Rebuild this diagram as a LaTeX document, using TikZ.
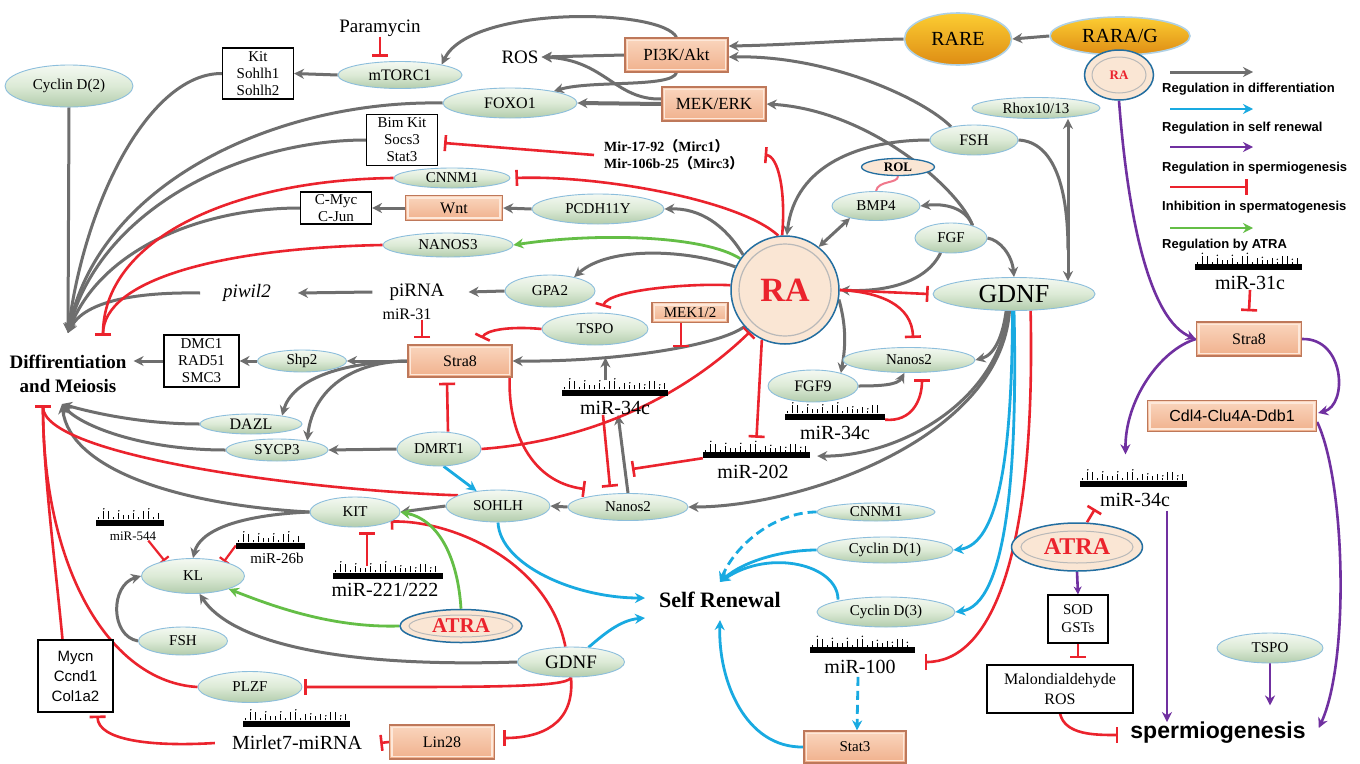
\documentclass[tikz,border=0pt]{standalone}
\usepackage{fontspec}
\setmainfont{Liberation Serif}
\setsansfont{Liberation Sans}
\newfontfamily\cjk{Noto Sans CJK SC}
\usetikzlibrary{arrows.meta,shapes.geometric,calc,backgrounds}
\definecolor{cgray}{RGB}{110,110,110}
\definecolor{cred}{RGB}{235,35,45}
\definecolor{cblue}{RGB}{25,170,225}
\definecolor{cgreen}{RGB}{100,190,70}
\definecolor{cpurp}{RGB}{112,48,160}
\definecolor{cpink}{RGB}{240,120,140}
\definecolor{ellT}{RGB}{244,249,242}
\definecolor{ellM}{RGB}{220,234,214}
\definecolor{ellB}{RGB}{178,204,172}
\definecolor{ellE}{RGB}{140,190,220}
\definecolor{boxT}{RGB}{250,214,190}
\definecolor{boxB}{RGB}{240,176,140}
\definecolor{boxE}{RGB}{190,120,90}
\definecolor{boxH}{RGB}{253,232,218}
\definecolor{raF}{RGB}{250,230,212}
\definecolor{raE}{RGB}{35,110,160}
\definecolor{goldT}{RGB}{252,205,50}
\definecolor{goldB}{RGB}{222,140,20}
\newcommand\fsz[2]{\fontsize{#1}{#2}\selectfont}
\newcommand\mirbar[4]{%
  \node[fill=black, inner sep=0pt, minimum width=#4pt, minimum height=6pt] (#1) at (#2,#3) {};
  \pgfmathtruncatemacro\mirn{(#4-6)/5}
  \foreach \k in {0,...,\mirn}{
    \pgfmathtruncatemacro\mirh{2+mod(\k*5+\k*\k,8)}
    \draw[line width=0.8pt] ($(#1.north west)+(3+\k*5,0)$) -- ++(0,-\mirh);
    \pgfmathtruncatemacro\mird{mod(\k,3)}
    \ifnum\mird=1 \fill ($(#1.north west)+(3+\k*5,-\mirh-2.5)$) circle (0.8pt);\fi
  }
}
\begin{document}
\begin{tikzpicture}[x=1pt,y=-1pt,
  ell/.style={ellipse, draw=ellE, line width=0.9pt, top color=ellT, bottom color=ellB, middle color=ellM, inner sep=0pt, font=\fsz{15}{18}},
  sbox/.style={rectangle, draw=boxE, line width=1.3pt, top color=boxT, bottom color=boxB, inner sep=0pt, font=\fsz{16}{19},
    path picture={\draw[boxH, line width=1.4pt] ([xshift=2.5pt,yshift=-2.5pt]path picture bounding box.north west) rectangle ([xshift=-2.5pt,yshift=2.5pt]path picture bounding box.south east);}},
  wbox/.style={rectangle, draw=black, line width=1.1pt, fill=white, inner sep=0pt, align=center, font=\fsz{15}{17}},
  lbl/.style={inner sep=0pt, font=\fsz{19}{22}},
  leg/.style={anchor=west, inner sep=0pt, font=\sffamily\bfseries\fsz{13}{15}},
  gold/.style={ellipse, draw=ellE!70!white, line width=1.6pt, top color=goldT, bottom color=goldB, inner sep=0pt, font=\fsz{20}{22}},
  garr/.style={draw=cgray, line width=3pt, -{Stealth[length=10pt,width=10pt]}},
  rinh/.style={draw=cred, line width=2.6pt, -{Bar[width=16pt,line width=2.6pt]}},
  rsmall/.style={draw=cred, line width=2.2pt, -{Bar[width=12pt,line width=2.2pt]}},
  barr/.style={draw=cblue, line width=2.8pt, -{Stealth[length=10pt,width=10pt]}},
  grarr/.style={draw=cgreen, line width=2.8pt, -{Stealth[length=10pt,width=10pt]}},
  parr/.style={draw=cpurp, line width=2.6pt, -{Stealth[length=10pt,width=10pt]}}
]
\useasboundingbox (0,0) rectangle (1360,763);

% ---------------- nodes ----------------
\node[lbl] (param) at (380,28) {Paramycin};
\node[ell, minimum width=124pt, minimum height=27pt, font=\fsz{16}{18}] (mtor) at (400,75) {mTORC1};
\node[wbox, minimum width=71pt, minimum height=51pt] (kitb) at (258,73.5) {Kit\\Sohlh1\\Sohlh2};
\node[ell, minimum width=128pt, minimum height=42pt] (cyc2) at (69,86) {Cyclin D(2)};
\node[sbox, minimum width=103pt, minimum height=34pt, font=\fsz{17}{19}] (pi3k) at (676.5,55) {PI3K/Akt};
\node[lbl, inner sep=3pt] (ros) at (520,57) {ROS};
\node[sbox, minimum width=104pt, minimum height=34pt, font=\fsz{17}{19}] (mek) at (714,104) {MEK/ERK};
\node[ell, minimum width=134pt, minimum height=30pt, font=\fsz{16}{18}] (foxo) at (510,103) {FOXO1};
\node[gold, minimum width=107pt, minimum height=52pt] (rare) at (958,39) {RARE};
\node[gold, minimum width=140pt, minimum height=38pt] (rarag) at (1120,36) {RARA/G};
\node[ellipse, draw=raE, line width=1.5pt, fill=raF, minimum width=69pt, minimum height=50pt, inner sep=0pt, text=cred, font=\bfseries\fsz{13}{15},
  path picture={\draw[gray!55, line width=1pt] (path picture bounding box.center) ellipse (27pt and 18pt);}] (ras) at (1119,75) {RA};
\node[wbox, minimum width=71pt, minimum height=51pt] (bim) at (402,140) {Bim Kit\\Socs3\\Stat3};
\node[inner sep=0pt, anchor=west, align=left, font=\bfseries\fsz{14}{17}] (mirtxt) at (604,155) {Mir-17-92{\cjk （}Mirc1{\cjk ）}\\Mir-106b-25{\cjk （}Mirc3{\cjk ）}};
\node[ell, minimum width=116pt, minimum height=20pt] (cnnm) at (452,178) {CNNM1};
\node[sbox, minimum width=97pt, minimum height=25pt] (wnt) at (454,208) {Wnt};
\node[wbox, minimum width=71pt, minimum height=32pt] (cmyc) at (336,208) {C-Myc\\C-Jun};
\node[ell, minimum width=132pt, minimum height=30pt] (pcdh) at (598,209) {PCDH11Y};
\node[ell, minimum width=130pt, minimum height=24pt] (nanos3) at (448,245) {NANOS3};
\node[lbl, font=\itshape\fsz{19}{22}] (piwil) at (247,293) {piwil2};
\node[lbl] (pirna) at (417,292) {piRNA};
\node[lbl, font=\fsz{16}{18}] (mir31) at (407,314) {miR-31};
\node[ell, minimum width=90pt, minimum height=32pt] (gpa) at (550,291) {GPA2};
\node[circle, draw=raE, line width=1.5pt, fill=raF, minimum size=108pt, inner sep=0pt, text=cred, font=\bfseries\fsz{34}{36},
  path picture={\draw[gray!55, line width=1.2pt] (path picture bounding box.center) circle (46pt);}] (RA) at (785,290) {RA};
\node[ell, minimum width=106pt, minimum height=32pt] (tspo) at (595,329) {TSPO};
\node[sbox, minimum width=76pt, minimum height=20pt, font=\fsz{15}{17}] (mek12) at (690,312.5) {MEK1/2};
\node[sbox, minimum width=104pt, minimum height=32pt] (stra) at (460,361) {Stra8};
\node[ell, minimum width=89pt, minimum height=22pt] (shp) at (302,361) {Shp2};
\node[wbox, minimum width=75pt, minimum height=52pt] (dmc) at (201.5,361) {DMC1\\RAD51\\SMC3};
\node[font=\bfseries\fsz{19}{24}, align=center, inner sep=0pt] (diff) at (68,374) {Diffirentiation\\and Meiosis};
\node[ell, minimum width=102pt, minimum height=20pt, font=\fsz{16}{18}] (dazl) at (251,424) {DAZL};
\node[ell, minimum width=102pt, minimum height=22pt] (sycp) at (277,450) {SYCP3};
\node[ell, minimum width=84pt, minimum height=34pt] (dmrt) at (439,449) {DMRT1};
\node[ell, minimum width=104pt, minimum height=32pt] (sohlh) at (498,506) {SOHLH};
\node[ell, minimum width=120pt, minimum height=27pt] (nanl) at (628,507) {Nanos2};
\node[ell, minimum width=90pt, minimum height=30pt] (kit) at (355,512) {KIT};
\node[ell, minimum width=103pt, minimum height=35pt] (kl) at (193,576) {KL};
\node[ell, minimum width=89pt, minimum height=28pt] (fshl) at (183,641) {FSH};
\node[ellipse, draw=raE, line width=1.5pt, fill=raF, minimum width=122pt, minimum height=33pt, inner sep=0pt, text=cred, font=\bfseries\fsz{21}{23},
  path picture={\draw[gray!55, line width=1pt] (path picture bounding box.center) ellipse (52pt and 11pt);}] (atral) at (461,626) {ATRA};
\node[ell, minimum width=107pt, minimum height=30pt, font=\fsz{19}{21}] (gdnfl) at (571,662) {GDNF};
\node[ell, minimum width=104pt, minimum height=31pt] (plzf) at (250,687) {PLZF};
\node[wbox, minimum width=75pt, minimum height=72pt, font=\sffamily\fsz{15}{20}] (mycn) at (75.5,676) {Mycn\\Ccnd1\\Col1a2};
\node[sbox, minimum width=105pt, minimum height=34pt] (lin28) at (442,742) {Lin28};
\node[font=\bfseries\fsz{22}{24}, inner sep=0pt] (sr) at (720,600) {Self Renewal};
\node[ell, minimum width=118pt, minimum height=18pt] (cnnmr) at (876,512) {CNNM1};
\node[ell, minimum width=136pt, minimum height=26pt] (cyc1) at (885,550) {Cyclin D(1)};
\node[ell, minimum width=138pt, minimum height=30pt] (cyc3) at (886,612) {Cyclin D(3)};
\node[sbox, minimum width=102pt, minimum height=32pt, font=\fsz{15}{17}] (stat3) at (855,747) {Stat3};
\node[ell, minimum width=90pt, minimum height=32pt, font=\fsz{16}{18}] (fgf9) at (813,386) {FGF9};
\node[ell, minimum width=132pt, minimum height=25pt] (nanr) at (909,360) {Nanos2};
\node[ell, minimum width=162pt, minimum height=33pt, font=\fsz{26}{28}] (gdnf) at (1014,294) {GDNF};
\node[ell, minimum width=72pt, minimum height=30pt] (fgf) at (951,238) {FGF};
\node[ell, minimum width=88pt, minimum height=29pt] (bmp) at (876,206) {BMP4};
\node[ellipse, draw=raE, line width=1.3pt, fill=raF, minimum width=73pt, minimum height=17pt, inner sep=0pt, font=\bfseries\fsz{13}{15}] (rol) at (898,167) {ROL};
\node[ell, minimum width=88pt, minimum height=30pt, font=\fsz{16}{18}] (fsh) at (974,140) {FSH};
\node[ell, minimum width=128pt, minimum height=21pt] (rhox) at (1036,108) {Rhox10/13};
\node[sbox, minimum width=105pt, minimum height=34pt] (strar) at (1249,339) {Stra8};
\node[sbox, minimum width=169pt, minimum height=31pt, font=\sffamily\fsz{16}{18}] (cdl) at (1232,416) {Cdl4-Clu4A-Ddb1};
\node[ellipse, draw=raE, line width=1.5pt, fill=raF, minimum width=131pt, minimum height=48pt, inner sep=0pt, text=cred, font=\bfseries\fsz{24}{26},
  path picture={\draw[gray!55, line width=1pt] (path picture bounding box.center) ellipse (56pt and 16pt);}] (atrar) at (1077,547) {ATRA};
\node[wbox, minimum width=60pt, minimum height=48pt, font=\fsz{15}{18}] (sod) at (1078,619) {SOD\\GSTs};
\node[wbox, minimum width=146pt, minimum height=48pt, font=\fsz{16}{20}] (mal) at (1060,689) {Malondialdehyde\\ROS};
\node[font=\sffamily\bfseries\fsz{23}{25}, inner sep=0pt] (sperm) at (1218,733) {spermiogenesis};
\node[ell, minimum width=106pt, minimum height=30pt] (tspor) at (1270,648) {TSPO};

% miRNA bars
\mirbar{m34b}{615}{392.5}{106}
\node[lbl, font=\fsz{20}{22}] (m34l) at (615,408) {miR-34c};
\mirbar{m202b}{756.5}{455}{107}
\node[lbl, font=\fsz{20}{22}] (m202l) at (753,472) {miR-202};
\mirbar{m34rb}{835}{416.5}{100}
\node[lbl, font=\fsz{20}{22}] (m34rl) at (835,433) {miR-34c};
\mirbar{m544b}{130}{522.5}{68}
\node[lbl, font=\fsz{13}{15}] (m544l) at (133,536) {miR-544};
\mirbar{m26b}{270.5}{545.5}{69}
\node[lbl, font=\fsz{15}{17}] (m26l) at (277,558) {miR-26b};
\mirbar{m221b}{388}{575.5}{110}
\node[lbl, font=\fsz{20}{22}] (m221l) at (385,590) {miR-221/222};
\mirbar{mletb}{296.5}{723.5}{107}
\node[lbl, font=\fsz{20}{22}] (mlet) at (297,743) {Mirlet7-miRNA};
\mirbar{m100b}{862}{650}{105}
\node[lbl, font=\fsz{20}{22}] (m100l) at (860,667) {miR-100};
\mirbar{m31cb}{1248}{267}{107}
\node[lbl, font=\fsz{20}{22}] (m31cl) at (1250,283) {miR-31c};
\mirbar{m34Rb}{1133.5}{483.5}{107}
\node[lbl, font=\fsz{20}{22}] (m34Rl) at (1135,500) {miR-34c};

% legend
\node[leg] (lg1) at (1162,89) {Regulation in differentiation};
\node[leg] (lg2) at (1162,128) {Regulation in self renewal};
\node[leg] (lg3) at (1162,168) {Regulation in spermiogenesis};
\node[leg] (lg4) at (1162,207) {Inhibition in spermatogenesis};
\node[leg] (lg5) at (1162,245) {Regulation by ATRA};

% free ends
\coordinate (dtop) at (68,333);
\coordinate (dinh) at (103,336);
\coordinate (dbot) at (62,404);
\coordinate (dinh2) at (43,405);
\coordinate (fj) at (1068,250);
\coordinate (p34) at ($(m34Rl.south)+(32,4)$);

\begin{pgfonlayer}{background}
\fill[white] (0,0) rectangle (1360,763);
% legend arrows
\draw[garr] ([xshift=8pt,yshift=17pt]lg1.west) -- ++(83,0);
\draw[barr] ([xshift=8pt,yshift=19pt]lg2.west) -- ++(83,0);
\draw[parr] ([xshift=8pt,yshift=21pt]lg3.west) -- ++(83,0);
\draw[rinh] ([xshift=8pt,yshift=20pt]lg4.west) -- ++(78,0);
\draw[grarr] ([xshift=8pt,yshift=17pt]lg5.west) -- ++(83,0);

% top
\draw[garr] (pi3k.north) .. controls (662,8) and (470,5) .. (mtor.14);
\draw[garr] (mtor.west) -- (kitb.east);
\draw[rinh] (param.south) -- ($(param.south |- mtor.north)+(0,-4)$);
\draw[garr] (pi3k.west) -- (ros.east);
\draw[garr] (pi3k.south) .. controls (672,88) and (590,80) .. (foxo.15);
\draw[garr, line width=4pt] (mek.west) -- (foxo.east);
\draw[garr] ([yshift=5pt]mek.west) .. controls (615,100) and (605,60) .. (ros.east);
\draw[garr] (rare.west) .. controls (850,40) and (790,45) .. ([yshift=9pt]pi3k.east);
\draw[garr] (fsh.150) .. controls (925,100) and (830,55) .. ([yshift=-2pt]pi3k.east);
\draw[garr] (fgf.30) .. controls (960,190) and (870,110) .. (mek.east);
\draw[garr] (fgf.30) .. controls (966,208) and (945,203) .. (bmp.east);
\draw[garr] (fsh.west) .. controls (860,140) and (795,165) .. (RA.88);
\draw[cgray, line width=3pt] (fsh.east) .. controls (1055,142) and (1068,190) .. (fj);
\draw[garr] (fj) -- (fj |- rhox.south);
\draw[garr] (fj) -- ($(fj |- gdnf.north)+(0,4)$);
\draw[garr] (rarag.west) -- (rare.east);
\draw[cgray, line width=3pt, {Stealth[length=9pt,width=9pt]}-{Stealth[length=9pt,width=9pt]}] (bmp.205) -- (RA.52);
\draw[cpink, line width=2pt] (rol.south) .. controls (898,184) and (878,180) .. (bmp.north);
\draw[garr] (fgf.east) .. controls (1000,240) and (1012,255) .. (gdnf.north);
\draw[garr] (fgf.235) .. controls (925,285) and (880,292) .. (RA.east);
\draw[rinh] (RA.east) -- ([xshift=-4pt]gdnf.west);
\draw[rinh] (RA.east) .. controls (880,292) and (912,305) .. ($(nanr.north)+(4,-9)$);
\draw[garr] (RA.350) .. controls (846,325) and (846,345) .. (fgf9.25);
\draw[garr] (fgf9.east) .. controls (880,386) and (898,385) .. (nanr.250);
\draw[rinh] (m34rb.south east) .. controls (912,422) and (922,400) .. ($(nanr.south)+(13,6)$);
\draw[garr] (gdnf.245) .. controls (1003,335) and (995,355) .. (nanr.east);
\draw[garr] (gdnf.250) .. controls (1000,400) and (900,457) .. ($(m202b.east)+(7,1)$);
\draw[garr] (gdnf.255) .. controls (1000,440) and (800,507) .. (nanl.east);
\draw[barr] (gdnf.265) .. controls (1012,450) and (1000,545) .. (cyc1.east);
\draw[barr] (gdnf.270) .. controls (1018,480) and (1005,605) .. (cyc3.east);
\draw[rinh] (gdnf.315) .. controls (1036,560) and (990,662) .. ($(m100b.east)+(10,12)$);

% RA region
\draw[rinh] (RA.97) .. controls (740,200) and (600,175) .. ([xshift=5pt]cnnm.east);
\draw[rinh] (RA.93) .. controls (786,190) and (778,156) .. ([xshift=21pt]mirtxt.east);
\draw[rinh] ([xshift=-10pt]mirtxt.west) -- ($(bim.east)+(6,3)$);
\draw[garr] (RA.140) .. controls (725,225) and (700,208) .. (pcdh.east);
\draw[grarr] (RA.145) .. controls (705,236) and (600,232) .. (nanos3.east);
\draw[garr] (RA.155) .. controls (690,250) and (610,245) .. (gpa.30);
\draw[garr] (gpa.west) -- ([xshift=24pt]pirna.east);
\draw[garr] ([xshift=-17pt]pirna.west) -- ([xshift=27pt]piwil.east);
\draw[garr] ([xshift=-23pt]piwil.west) .. controls (140,292) and (85,300) .. (dtop);
\draw[garr] (pcdh.west) -- (wnt.east);
\draw[garr] (wnt.west) -- (cmyc.east);

% into Differentiation (top)
\draw[garr] (cyc2.south) -- (dtop);
\draw[garr] (kitb.west) .. controls (150,73) and (85,200) .. (dtop);
\draw[garr] (foxo.west) .. controls (280,100) and (100,180) .. (dtop);
\draw[garr] (bim.west) .. controls (240,140) and (100,210) .. (dtop);
\draw[garr] (cmyc.west) .. controls (200,208) and (100,250) .. (dtop);
\draw[rinh] (cnnm.west) .. controls (230,180) and (103,240) .. (dinh);
\draw[rinh] (nanos3.west) .. controls (220,248) and (103,280) .. (dinh);

% Stra8 area
\draw[garr] (stra.west) -- (shp.east);
\draw[garr] (shp.west) -- (dmc.east);
\draw[garr] (dmc.west) -- ($(diff.east |- dmc.west)+(7,0)$);
\draw[garr] (stra.west) .. controls (340,362) and (292,380) .. (dazl.15);
\draw[garr] (stra.west) .. controls (345,362) and (312,395) .. (sycp.17);
\draw[garr] (dazl.west) .. controls (140,424) and (90,412) .. (dbot);
\draw[garr] (sycp.west) .. controls (140,450) and (80,425) .. (dbot);
\draw[garr] (kit.west) .. controls (180,505) and (70,470) .. (dbot);
\draw[garr] (dmrt.west) -- (sycp.east);
\draw[barr] (dmrt.285) -- (sohlh.145);
\draw[rinh] ([xshift=9pt]dmrt.north) -- ($(stra.south)+(-13,5)$);
\draw[rinh] ([xshift=15pt]mir31.south) -- ($(stra.north)+(-38,-6)$);
\draw[rinh] (tspo.west) .. controls (510,326) and (486,330) .. ($(stra.north)+(22,-6)$);
\draw[rinh] (RA.175) .. controls (690,283) and (608,290) .. ($(tspo.north)+(8,-6)$);
\draw[garr] (RA.222) .. controls (720,345) and (620,362) .. (stra.east) coordinate[pos=0.41] (mekhit) coordinate[pos=0.7] (m34hit);
\draw[rinh] (mekhit |- mek12.south) -- (mekhit);
\draw[garr] ($(m34hit |- m34b.north)+(0,-9)$) -- (m34hit);
\draw[garr] (nanl.north) -- ([xshift=3pt]m34l.south);
\draw[rinh] ([xshift=-12pt]m34l.south) -- ($(nanl.north)+(-18,-6)$);
\draw[rinh] (m202b.south west) -- ($(nanl.north)+(4,-24)$);
\draw[rinh] ([xshift=-3pt]stra.south east) .. controls (508,430) and (530,482) .. ($(nanl.north)+(-43,-4)$);
\draw[rinh] (dmrt.east) .. controls (600,440) and (690,390) .. (RA.230);
\draw[rinh] (RA.245) -- ($(m202b.north)+(0,-14)$);

% SOHLH / KIT / KL
\draw[garr] (nanl.west) -- (sohlh.east);
\draw[garr] (sohlh.west) -- (kit.east);
\draw[rinh] (sohlh.165) .. controls (300,490) and (43,455) .. (dinh2);
\draw[rinh] ([xshift=-13pt]mycn.north) .. controls (55,560) and (43,470) .. (dinh2);
\draw[rinh] (plzf.west) .. controls (110,682) and (43,570) .. (dinh2);
\draw[garr] (kit.west) .. controls (240,515) and (200,530) .. (kl.north);
\draw[garr] (fshl.west) .. controls (110,636) and (110,585) .. (kl.west);
\draw[rsmall] ([xshift=-8pt]m544l.south east) -- (kl.152);
\draw[rsmall] (m26b.west) -- (kl.25);
\draw[rinh] ($(m221b.north)+(-21,-6)$) -- ($(kit.south)+(12,5)$);
\draw[rinh] (gdnfl.110) .. controls (548,560) and (450,520) .. (kit.345);
\draw[grarr] (atral.north) .. controls (458,560) and (440,520) .. (kit.east);
\draw[grarr] (atral.west) .. controls (330,628) and (270,605) .. (kl.340);
\draw[garr] (gdnfl.west) .. controls (330,668) and (230,640) .. (kl.290);
\draw[rinh] (gdnfl.south) .. controls (568,688) and (480,687) .. ([xshift=2pt]plzf.east);
\draw[rinh] (gdnfl.south) .. controls (575,725) and (540,738) .. ($(lin28.east)+(8,-4)$);
\draw[rinh] (lin28.west) -- ([xshift=18pt]mlet.east);
\draw[rinh] ([xshift=-17pt]mlet.west) .. controls (150,747) and (98,740) .. ($(mycn.south)+(22,3)$);

% Self renewal
\draw[barr] (sohlh.south) .. controls (500,565) and (575,598) .. ($(sr.west)+(-14,-2)$);
\draw[barr] (gdnfl.40) .. controls (603,635) and (620,620) .. ($(sr.west)+(-14,18)$);
\draw[barr, dash pattern=on 9pt off 5pt] (cnnmr.west) .. controls (775,512) and (735,545) .. ($(sr.north)+(0,-10)$);
\draw[barr] (cyc1.west) .. controls (785,550) and (745,560) .. ($(sr.north)+(0,-10)$);
\draw[barr] ($(cyc3.north)+(-48,3)$) .. controls (838,565) and (770,548) .. ($(sr.north)+(0,-10)$);
\draw[barr] (stat3.west) .. controls (745,748) and (718,680) .. ($(sr.south)+(0,12)$);
\draw[barr, dash pattern=on 9pt off 5pt] ($(m100l.south)+(-2,3)$) -- ([xshift=2pt]stat3.north);

% right panel
\draw[parr] (ras.south) .. controls (1128,220) and (1150,320) .. (strar.west);
\draw[rinh] (m31cl.south) -- ($(strar.north)+(0,-10)$);
\draw[parr] (strar.east) .. controls (1345,338) and (1348,405) .. ($(cdl.east)+(1,-3)$);
\draw[parr] (strar.west) .. controls (1160,350) and (1125,400) .. ($(m34Rb.north)+(-8,-26)$);
\draw[parr] ($(cdl.east)+(0,6)$) .. controls (1345,480) and (1350,660) .. ($(sperm.east)+(13,-5)$);
\draw[parr] (p34) -- (p34 |- sperm.north);
\draw[rinh] ([xshift=10pt]atrar.north) -- ($(m34Rl.south)+(-40,2)$);
\draw[parr, -{Stealth[length=8pt,width=8pt]}] (atrar.south) -- (sod.north);
\draw[rinh] (sod.south) -- ($(sod.south |- mal.north)+(0,-6)$);
\draw[rinh] (mal.south) .. controls (1065,735) and (1095,735) .. ($(sperm.west)+(-12,2)$);
\draw[parr] (tspor.south) -- ($(tspor.south)+(0,42)$);
\end{pgfonlayer}
\end{tikzpicture}
\end{document}
